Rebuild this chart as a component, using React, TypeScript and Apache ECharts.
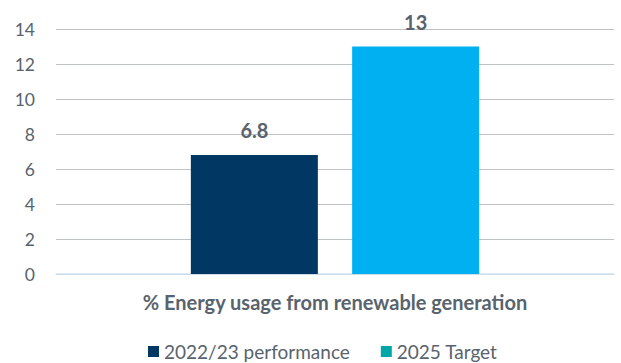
import React, { useEffect, useRef } from "react";
import * as echarts from "echarts";

const categories = ["% Energy usage from renewable generation"];
const seriesNames = ["2022/23 performance", "2025 Target"];
const performance = [6.8];
const target = [13];
const yTicks = [0, 2, 4, 6, 8, 10, 12, 14];

const TEXT = "#58636d";
const FONT = "Lato, 'Open Sans', sans-serif";

export default function App() {
  const ref = useRef<HTMLDivElement>(null);

  useEffect(() => {
    if (!ref.current) return;
    const chart = echarts.init(ref.current, undefined, { renderer: "svg" });
    const valueLabel = {
      show: true,
      position: "top",
      distance: 15,
      color: TEXT,
      fontSize: 20,
      fontWeight: "bold",
      fontFamily: FONT,
    };
    chart.setOption({
      animation: false,
      textStyle: { fontFamily: FONT },
      grid: { left: 56, right: 7, top: 29, bottom: 89, containLabel: false },
      legend: {
        top: 337,
        left: 143,
        icon: "rect",
        itemWidth: 11,
        itemHeight: 11,
        itemGap: 31,
        textStyle: { color: TEXT, fontSize: 19, fontFamily: FONT },
        data: [
          { name: seriesNames[0], itemStyle: { color: "#003763" } },
          { name: seriesNames[1], itemStyle: { color: "#00a6a8" } },
        ],
      },
      xAxis: {
        type: "category",
        data: categories,
        axisLine: { show: true, lineStyle: { color: "#d3e4f5", width: 1.5 } },
        axisTick: { show: false },
        axisLabel: {
          color: TEXT,
          fontSize: 20,
          fontWeight: "bold",
          margin: 18,
          fontFamily: FONT,
        },
      },
      yAxis: {
        type: "value",
        min: yTicks[0],
        max: yTicks[yTicks.length - 1],
        interval: 2,
        axisLine: { show: false },
        axisTick: { show: false },
        axisLabel: { color: TEXT, fontSize: 17.5, margin: 21, fontFamily: FONT },
        splitLine: { lineStyle: { color: "#bfc2c5", width: 1 } },
      },
      series: [
        {
          name: seriesNames[0],
          type: "bar",
          data: performance,
          barWidth: 127,
          barGap: "27%",
          itemStyle: { color: "#003763" },
          label: valueLabel,
        },
        {
          name: seriesNames[1],
          type: "bar",
          data: target,
          barWidth: 127,
          itemStyle: { color: "#00b0f0" },
          label: valueLabel,
        },
      ],
    });
    return () => chart.dispose();
  }, []);

  return <div ref={ref} style={{ width: 621, height: 363, position: "absolute", left: 0, top: 0 }} />;
}
